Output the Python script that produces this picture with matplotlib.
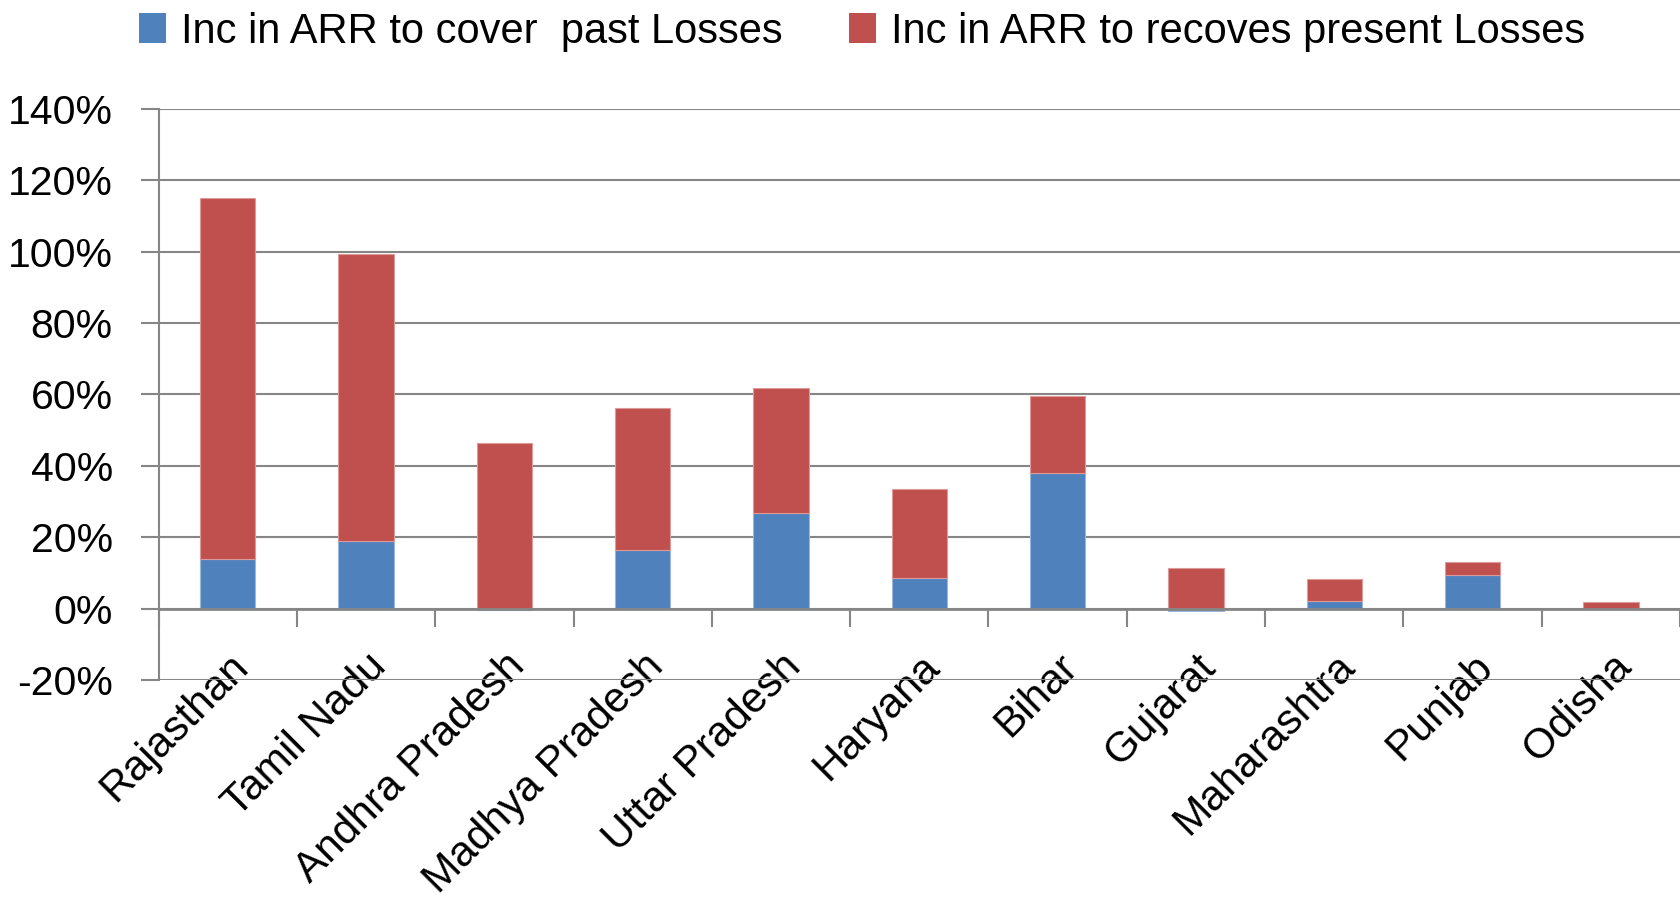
import matplotlib
matplotlib.use("Agg")
import matplotlib.pyplot as plt
import numpy as np
from matplotlib.patches import Patch

states = ["Rajasthan", "Tamil Nadu", "Andhra Pradesh", "Madhya Pradesh", "Uttar Pradesh",
          "Haryana", "Bihar", "Gujarat", "Maharashtra", "Punjab", "Odisha"]
past_losses = [13.8, 18.9, -0.3, 16.5, 26.7, 8.7, 38.1, -0.6, 2.1, 9.4, 0.0]
present_losses = [101.2, 80.5, 46.5, 39.7, 35.2, 24.9, 21.4, 11.4, 6.2, 3.6, 2.0]
yticks = [-20, 0, 20, 40, 60, 80, 100, 120, 140]

blue = "#4F81BD"
red = "#C0504D"
grid_c = "#868686"

plt.rcParams['font.family'] = ['Liberation Sans', 'DejaVu Sans']
fig = plt.figure(figsize=(16.8, 9), dpi=100)
ax = fig.add_axes([0.0944, 0.2444, 0.9056, 0.6346])

x = np.arange(len(states))
past = np.array(past_losses)
pres = np.array(present_losses)
bottom_red = np.where(past > 0, past, 0)
w = 0.4
ax.bar(x, past, width=w, color=blue, edgecolor="#9DB7DC", linewidth=0.8, zorder=3)
ax.bar(x, pres, width=w, bottom=bottom_red, color=red, edgecolor="#DE9A98", linewidth=0.8, zorder=3)

ax.set_xlim(-0.5, len(states) - 0.5)
ax.set_ylim(-20, 140)
ax.set_yticks(yticks)
ax.set_yticklabels([f"{v}%" for v in yticks], fontsize=29.5)
ax.yaxis.grid(True, color=grid_c, linewidth=1.5, zorder=0)
ax.tick_params(axis='y', length=13, width=1.5, color=grid_c, pad=20)

for s in ['top', 'right']:
    ax.spines[s].set_visible(False)
ax.spines['left'].set_color(grid_c)
ax.spines['left'].set_linewidth(1.5)
ax.spines['bottom'].set_position(('data', 0))
ax.spines['bottom'].set_color(grid_c)
ax.spines['bottom'].set_linewidth(2)
ax.spines['bottom'].set_zorder(4)

ax.set_xticks(x)
ax.set_xticklabels(states, rotation=45, ha='right', va='top', rotation_mode='anchor', fontsize=30.5)
ax.tick_params(axis='x', which='major', length=0, pad=27)
ax.set_xticks(np.arange(-0.5, len(states)), minor=True)
ax.tick_params(axis='x', which='minor', length=13, width=1.5, color=grid_c)

handles = [Patch(facecolor=blue), Patch(facecolor=red)]
fig.legend(handles, ["Inc in ARR to cover  past Losses", "Inc in ARR to recoves present Losses"],
           loc='center', bbox_to_anchor=(0.513, 0.965), ncol=2, frameon=False, fontsize=30,
           handlelength=0.65, handleheight=0.75, handletextpad=0.35, columnspacing=1.6)

fig.savefig("out.png", dpi=100)
